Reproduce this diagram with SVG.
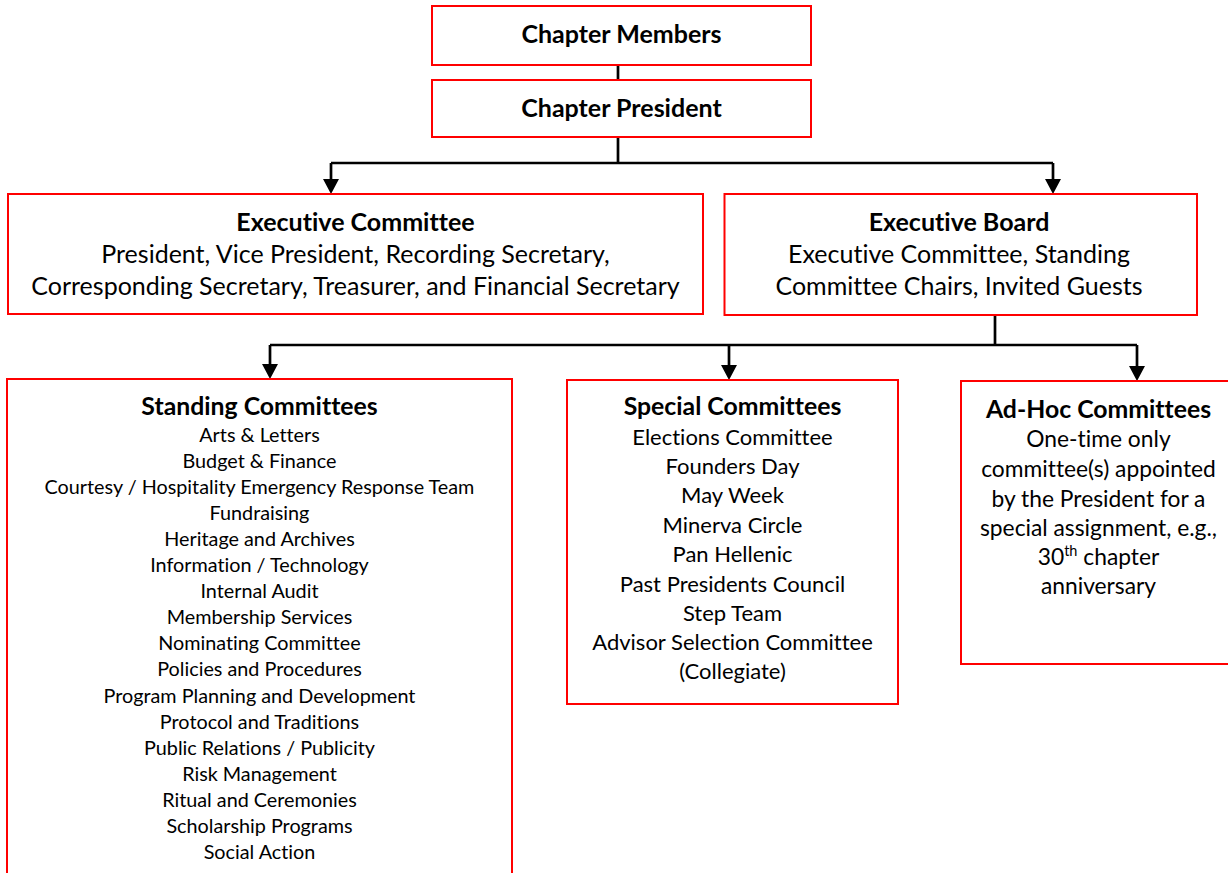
<svg xmlns="http://www.w3.org/2000/svg" width="1228" height="873" viewBox="0 0 1228 873">
  <style>
    .box { fill: #ffffff; stroke: #ff0000; stroke-width: 2; }
    .wire { fill: none; stroke: #000000; stroke-width: 2.7; }
    text { font-family: Lato, "Liberation Sans", sans-serif; fill: #000000; text-anchor: middle; font-variant-ligatures: none; }
    .h1 { font-size: 25px; font-weight: bold; }
    .b1 { font-size: 25px; }
    .h2 { font-size: 24.8px; font-weight: bold; }
    .b2 { font-size: 22px; }
    .b2w { font-size: 22.8px; }
    .b3 { font-size: 19.8px; }
  </style>
  <defs>
    <marker id="arrow" markerUnits="userSpaceOnUse" markerWidth="16" markerHeight="15" refX="8" refY="7" orient="0" overflow="visible">
      <path d="M0,0 L16,0 L8,15 Z" fill="#000000"/>
    </marker>
  </defs>
  <rect width="1228" height="873" fill="#ffffff"/>

  <!-- connectors -->
  <g id="connectors">
    <path class="wire" d="M618,65 V80"/>
    <path class="wire" d="M618,137 V163"/>
    <path class="wire" d="M331,163 H1053"/>
    <path class="wire" d="M331,163 V186" marker-end="url(#arrow)"/>
    <path class="wire" d="M1053,163 V186" marker-end="url(#arrow)"/>
    <path class="wire" d="M995,315 V345"/>
    <path class="wire" d="M270,345 H1137"/>
    <path class="wire" d="M270,345 V371" marker-end="url(#arrow)"/>
    <path class="wire" d="M729,345 V372" marker-end="url(#arrow)"/>
    <path class="wire" d="M1137,345 V373" marker-end="url(#arrow)"/>
  </g>

  <g id="chapter-members">
    <rect class="box" x="432" y="6" width="379" height="59"/>
    <text class="h1" x="621.5" y="43">Chapter Members</text>
  </g>

  <g id="chapter-president">
    <rect class="box" x="432" y="80" width="379" height="57"/>
    <text class="h1" x="621.5" y="117">Chapter President</text>
  </g>

  <g id="executive-committee">
    <rect class="box" x="8" y="194" width="695" height="120"/>
    <text class="h1" x="355.5" y="231">Executive Committee</text>
    <text class="b1" x="355.5" y="263">President, Vice President, Recording Secretary,</text>
    <text class="b1" x="355.5" y="295">Corresponding Secretary, Treasurer, and Financial Secretary</text>
  </g>

  <g id="executive-board">
    <rect class="box" x="724.5" y="194" width="472.5" height="121"/>
    <text class="h1" x="959" y="231">Executive Board</text>
    <text class="b1" x="959" y="263">Executive Committee, Standing</text>
    <text class="b1" x="959" y="295">Committee Chairs, Invited Guests</text>
  </g>

  <g id="standing-committees">
    <rect class="box" x="7" y="379" width="505" height="510"/>
    <text class="h2" x="259.5" y="415">Standing Committees</text>
    <g class="b3">
      <text x="259.5" y="442">Arts &amp; Letters</text>
      <text x="259.5" y="468">Budget &amp; Finance</text>
      <text x="259.5" y="494">Courtesy / Hospitality Emergency Response Team</text>
      <text x="259.5" y="520">Fundraising</text>
      <text x="259.5" y="546">Heritage and Archives</text>
      <text x="259.5" y="572">Information / Technology</text>
      <text x="259.5" y="598">Internal Audit</text>
      <text x="259.5" y="624">Membership Services</text>
      <text x="259.5" y="650">Nominating Committee</text>
      <text x="259.5" y="676">Policies and Procedures</text>
      <text x="259.5" y="703">Program Planning and Development</text>
      <text x="259.5" y="729">Protocol and Traditions</text>
      <text x="259.5" y="755">Public Relations / Publicity</text>
      <text x="259.5" y="781">Risk Management</text>
      <text x="259.5" y="807">Ritual and Ceremonies</text>
      <text x="259.5" y="833">Scholarship Programs</text>
      <text x="259.5" y="859">Social Action</text>
    </g>
  </g>

  <g id="special-committees">
    <rect class="box" x="567" y="380" width="331" height="324"/>
    <text class="h2" x="732.5" y="415">Special Committees</text>
    <g class="b2">
      <text x="732.5" y="445">Elections Committee</text>
      <text x="732.5" y="474">Founders Day</text>
      <text x="732.5" y="503">May Week</text>
      <text x="732.5" y="533">Minerva Circle</text>
      <text x="732.5" y="562">Pan Hellenic</text>
      <text x="732.5" y="592">Past Presidents Council</text>
      <text x="732.5" y="621">Step Team</text>
      <text x="732.5" y="650">Advisor Selection Committee</text>
      <text x="732.5" y="679">(Collegiate)</text>
    </g>
  </g>

  <g id="ad-hoc-committees">
    <rect class="box" x="961" y="381" width="275" height="283"/>
    <text class="h2" x="1098.5" y="418">Ad-Hoc Committees</text>
    <g class="b2w">
      <text x="1098.5" y="447">One-time only</text>
      <text x="1098.5" y="477">committee(s) appointed</text>
      <text x="1098.5" y="507">by the President for a</text>
      <text x="1098.5" y="536">special assignment, e.g.,</text>
      <text x="1098.5" y="565">30<tspan font-size="14.5" dy="-9">th</tspan><tspan dy="9"> chapter</tspan></text>
      <text x="1098.5" y="594">anniversary</text>
    </g>
  </g>
</svg>
